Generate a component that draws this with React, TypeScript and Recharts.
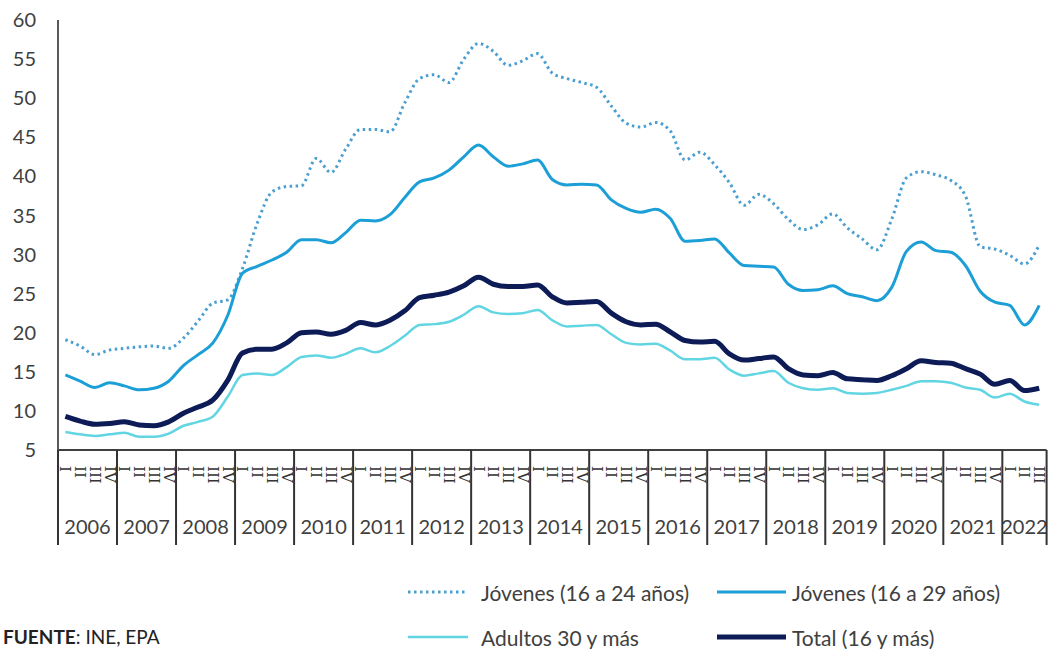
import { LineChart, Line, XAxis, YAxis } from 'recharts';

// quarterly unemployment rates (%), 2006-I .. 2022-III
const years = [2006, 2007, 2008, 2009, 2010, 2011, 2012, 2013, 2014, 2015, 2016, 2017, 2018, 2019, 2020, 2021, 2022];
const quartersPerYear = [4, 4, 4, 4, 4, 4, 4, 4, 4, 4, 4, 4, 4, 4, 4, 4, 3];
const quarterLabels = ['I', 'II', 'III', 'IV'];
const yTicks = [5, 10, 15, 20, 25, 30, 35, 40, 45, 50, 55, 60];

const jovenes1624 = [
  19.1, 18.3, 17.2, 17.8, 18.0, 18.2, 18.3, 18.0, 19.3, 21.5, 23.8, 24.2,
  28.2, 34.0, 38.0, 38.7, 38.8, 42.3, 40.5, 43.5, 46.0, 46.0, 45.7, 49.4,
  52.5, 53.0, 52.0, 55.0, 57.0, 56.0, 54.2, 54.8, 55.7, 53.2, 52.5, 52.0,
  51.4, 49.0, 46.8, 46.3, 46.9, 45.8, 42.1, 43.1, 41.5, 39.2, 36.3, 37.7,
  36.5, 34.5, 33.2, 33.8, 35.2, 33.4, 32.0, 30.6, 34.5, 39.8, 40.6, 40.2,
  39.5, 37.5, 31.0, 30.7, 29.9, 28.8, 31.2,
];
const jovenes1629 = [
  14.6, 13.8, 13.0, 13.6, 13.2, 12.7, 12.9, 13.8, 15.8, 17.2, 18.7, 22.2,
  27.6, 28.5, 29.3, 30.3, 31.9, 31.9, 31.5, 32.8, 34.4, 34.3, 35.1, 37.3,
  39.3, 39.8, 40.8, 42.5, 44.0, 42.5, 41.3, 41.6, 42.1, 39.6, 38.9, 39.0,
  38.9, 37.0, 35.9, 35.4, 35.8, 34.6, 31.7, 31.8, 32.0, 30.2, 28.6, 28.5,
  28.4, 26.2, 25.4, 25.5, 26.0, 25.0, 24.6, 24.1, 25.8, 30.4, 31.6, 30.5,
  30.3, 28.6, 25.3, 23.9, 23.5, 21.0, 23.5,
];
const adultos30 = [
  7.3, 7.0, 6.8, 7.0, 7.2, 6.7, 6.7, 7.1, 8.1, 8.6, 9.3, 11.8,
  14.6, 14.8, 14.6, 15.6, 16.9, 17.1, 16.8, 17.3, 18.0, 17.5, 18.3, 19.6,
  21.0, 21.1, 21.4, 22.3, 23.4, 22.6, 22.4, 22.5, 22.9, 21.6, 20.8, 20.9,
  21.0, 19.8, 18.7, 18.5, 18.6, 17.7, 16.6, 16.6, 16.8, 15.3, 14.5, 14.8,
  15.1, 13.6, 12.9, 12.7, 12.9, 12.3, 12.2, 12.3, 12.7, 13.2, 13.8, 13.8,
  13.6, 13.0, 12.7, 11.7, 12.2, 11.2, 10.8,
];
const total16 = [
  9.3, 8.7, 8.3, 8.4, 8.6, 8.2, 8.1, 8.6, 9.7, 10.5, 11.4, 13.9,
  17.4, 17.9, 17.9, 18.7, 20.0, 20.1, 19.8, 20.3, 21.3, 21.0, 21.6, 22.8,
  24.5, 24.8, 25.2, 26.0, 27.1, 26.2, 25.9, 25.9, 26.1, 24.6, 23.8, 23.9,
  24.0, 22.5, 21.4, 21.0, 21.1, 20.1, 19.0, 18.8, 18.9, 17.3, 16.5, 16.7,
  16.9, 15.4, 14.6, 14.5, 14.9, 14.1, 14.0, 13.9, 14.5, 15.4, 16.4, 16.2,
  16.1, 15.4, 14.7, 13.4, 13.9, 12.6, 12.9,
];

const series = [
  { key: 'j1624', name: 'Jóvenes (16 a 24 años)', values: jovenes1624, color: '#4a9fd0', width: 3, dash: '2.5 3.5' },
  { key: 'j1629', name: 'Jóvenes (16 a 29 años)', values: jovenes1629, color: '#1c9fd6', width: 3, dash: undefined },
  { key: 'a30', name: 'Adultos 30 y más', values: adultos30, color: '#62d5e2', width: 2.5, dash: undefined },
  { key: 'total', name: 'Total (16 y más)', values: total16, color: '#0d1b56', width: 5, dash: undefined },
];

const categories: { year: number; qi: number; yearIdx: number }[] = [];
years.forEach((y, yi) => {
  for (let q = 0; q < quartersPerYear[yi]; q++) categories.push({ year: y, qi: q, yearIdx: yi });
});

const data = categories.map((c, i) => {
  const row: Record<string, any> = { cat: `${c.year}-${quarterLabels[c.qi]}` };
  series.forEach((s) => { row[s.key] = s.values[i]; });
  return row;
});

const W = 1049;
const H = 649;
const PLOT_LEFT = 58;
const PLOT_RIGHT = 1046.6;
const QW = (PLOT_RIGHT - PLOT_LEFT) / categories.length;
const TEXT = '#404040';
const FONT = 'Lato, "Open Sans", sans-serif';

// legend layout: two columns x two rows
const legendSlots = [
  { x: 408, w: 58, tx: 481, y: 592 },
  { x: 717, w: 69, tx: 792, y: 592 },
  { x: 408, w: 60, tx: 481, y: 637 },
  { x: 717, w: 69, tx: 792, y: 637 },
];

function CategoryTick(props: any) {
  const { x, y, payload } = props;
  const c = categories[payload.index];
  if (!c) return null;
  const half = QW / 2;
  const last = payload.index === categories.length - 1;
  return (
    <g>
      <text
        transform={`translate(${x},${y + 16}) rotate(90)`}
        fontSize={15}
        fontFamily='"DejaVu Serif", serif'
        fill="#333"
        dominantBaseline="central"
      >
        {quarterLabels[c.qi]}
      </text>
      {c.qi === 0 && (
        <line x1={x - half} x2={x - half} y1={y} y2={y + 95} stroke="#333" strokeWidth={2} />
      )}
      {c.qi === 0 && (
        <text
          x={x - half + (quartersPerYear[c.yearIdx] * QW) / 2}
          y={y + 76}
          textAnchor="middle"
          dominantBaseline="central"
          fontSize={20}
          fontFamily={FONT}
          fill={TEXT}
        >
          {c.year}
        </text>
      )}
      {last && <line x1={x + half} x2={x + half} y1={y} y2={y + 95} stroke="#333" strokeWidth={2} />}
    </g>
  );
}

export default function App() {
  return (
    <div style={{ position: 'absolute', left: 0, top: 0, width: W, height: H, background: '#fff', overflow: 'hidden' }}>
      <LineChart width={W} height={H} data={data} margin={{ top: 20, right: W - PLOT_RIGHT, left: 0, bottom: 99 }}>
        <XAxis
          dataKey="cat"
          interval={0}
          padding={{ left: QW / 2, right: QW / 2 }}
          height={100}
          tickLine={false}
          tickSize={0}
          tickMargin={0}
          axisLine={{ stroke: '#404040', strokeWidth: 2 }}
          tick={<CategoryTick />}
        />
        <YAxis
          width={PLOT_LEFT}
          domain={[5, 60]}
          ticks={yTicks}
          interval={0}
          tickLine={false}
          tickSize={6}
          tickMargin={16}
          axisLine={{ stroke: '#595959', strokeWidth: 2 }}
          tick={{ fill: TEXT, fontSize: 20, fontFamily: FONT }}
        />
        {series.map((s) => (
          <Line
            key={s.key}
            dataKey={s.key}
            name={s.name}
            type="monotone"
            stroke={s.color}
            strokeWidth={s.width}
            strokeDasharray={s.dash}
            dot={false}
            isAnimationActive={false}
          />
        ))}
      </LineChart>
      <svg width={W} height={H} style={{ position: 'absolute', left: 0, top: 0, pointerEvents: 'none' }}>
        {series.map((s, i) => {
          const slot = legendSlots[i];
          return (
            <g key={s.key}>
              <line
                x1={slot.x}
                x2={slot.x + slot.w}
                y1={slot.y}
                y2={slot.y}
                stroke={s.color}
                strokeWidth={s.width}
                strokeDasharray={s.dash}
              />
              <text x={slot.tx} y={slot.y} dominantBaseline="central" fontSize={21} fontFamily={FONT} fill={TEXT}>
                {s.name}
              </text>
            </g>
          );
        })}
        <text x={3} y={644} fontSize={19} fontFamily={FONT} fill="#222">
          <tspan fontWeight="bold">FUENTE</tspan>: INE, EPA
        </text>
      </svg>
    </div>
  );
}
